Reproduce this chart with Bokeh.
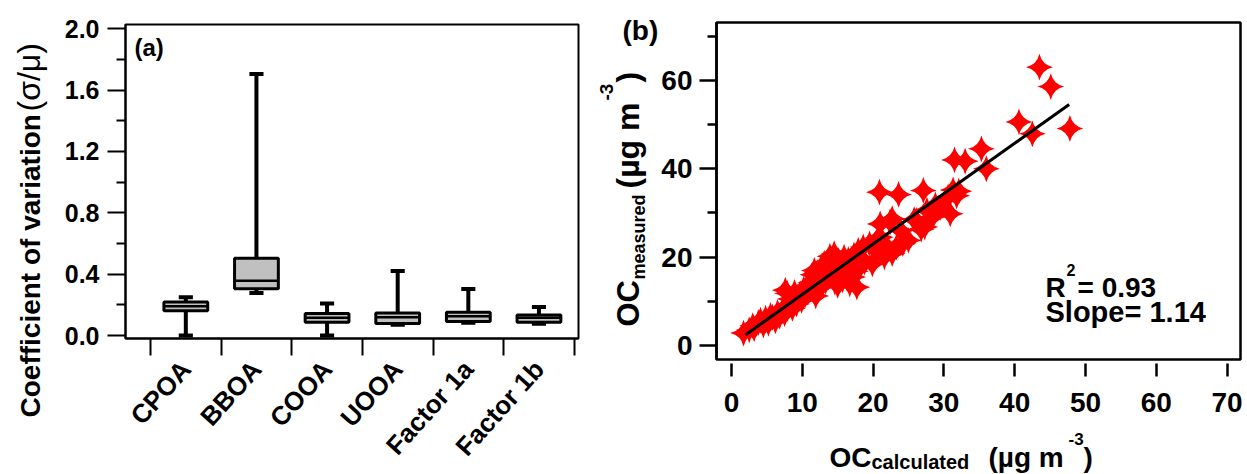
import math

from bokeh.embed import file_html
from bokeh.layouts import column, row
from bokeh.models import ColumnDataSource, FixedTicker, Label, Plot, Range1d
from bokeh.plotting import figure
from bokeh.resources import INLINE

FONT = "Liberation Sans"

# ---------------- Panel (a): coefficient of variation of each factor ----------------
factors = ["CPOA", "BBOA", "COOA", "UOOA", "Factor 1a", "Factor 1b"]
cv_whisker_low = [0.000, 0.277, 0.000, 0.070, 0.084, 0.076]
cv_q1 = [0.162, 0.305, 0.086, 0.078, 0.091, 0.086]
cv_median = [0.190, 0.357, 0.115, 0.119, 0.125, 0.115]
cv_q3 = [0.219, 0.504, 0.143, 0.147, 0.151, 0.134]
cv_whisker_high = [0.249, 1.706, 0.208, 0.420, 0.303, 0.186]

cv_ticks = [0.0, 0.4, 0.8, 1.2, 1.6, 2.0]
cv_minor_ticks = [0.2, 0.6, 1.0, 1.4, 1.8]

# ---------------- Panel (b): measured vs calculated OC ----------------
oc_calculated = [
    1.7, 2.5, 3.0, 3.2, 3.8, 4.1, 4.5, 4.8, 5.2, 5.5, 5.8, 6.2, 6.5, 6.8, 7.2,
    7.5, 7.6, 7.9, 8.1, 8.3, 8.6, 8.9, 9.2, 9.4, 9.7, 9.9, 10.2, 10.4, 10.7, 10.9,
    11.2, 11.5, 11.7, 11.9, 12.1, 12.3, 12.6, 12.6, 12.9, 13.1, 13.3, 13.5, 13.7,
    13.9, 14.1, 14.3, 14.5, 14.6, 14.8, 15.0, 15.1, 15.3, 15.5, 15.7, 15.9, 16.1,
    16.3, 16.5, 16.7, 16.9, 17.1, 17.3, 17.5, 17.7, 17.9, 18.1, 18.3, 18.6, 18.8,
    19.5, 19.9, 20.5, 20.7, 20.9, 21.0, 21.0, 21.6, 21.8,
    22.4, 22.7, 22.7, 23.3, 23.6, 23.9, 24.2, 25.0, 25.8, 26.1,
    26.8, 27.1, 27.3, 27.6, 28.4, 28.8, 29.5, 30.6, 30.9,
    31.3, 31.5, 31.8, 32.1, 33.0, 35.3, 36.0, 40.6, 42.5, 43.5, 45.1, 47.8,
]
oc_measured = [
    2.8, 3.5, 4.5, 3.8, 5.2, 5.7, 4.6, 6.2, 5.0, 6.8, 6.4, 5.6, 7.5, 6.6, 8.0,
    7.2, 12.5, 11.8, 9.2, 10.5, 8.4, 12.0, 9.4, 11.0, 11.7, 10.2, 12.8, 11.4, 13.5, 12.5,
    14.2, 16.0, 17.0, 11.2, 16.5, 15.1, 17.2, 13.2, 16.2, 18.6, 14.5, 17.3, 15.5,
    20.2, 16.6, 18.4, 20.8, 14.3, 17.8, 13.6, 19.2, 16.0, 18.6, 14.8, 20.0, 17.1,
    15.4, 19.5, 13.9, 18.0, 15.5, 20.5, 16.8, 13.2, 21.5, 17.7, 19.8, 22.3, 18.9,
    23.0, 18.5, 21.5, 24.3, 34.7, 27.5, 24.5, 20.0, 22.7,
    28.0, 28.7, 20.8, 22.3, 34.2, 26.0, 23.0, 23.8, 28.5, 28.3,
    26.3, 35.1, 26.8, 30.6, 29.1, 31.8, 31.3, 33.6, 29.8,
    35.2, 42.0, 33.9, 34.9, 41.7, 44.5, 40.0, 50.6, 47.9, 63.0, 58.6, 49.1,
]

fit_slope = 1.14
fit_intercept = 0.17
fit_x = [2.0, 47.7]

oc_ticks = [0, 20, 40, 60]
oc_minor_ticks = [10, 30, 50, 70]
oc_calc_ticks = [0, 10, 20, 30, 40, 50, 60, 70]

# ---------------- page geometry (pixels) ----------------
HEIGHT = 474
YT_W = 55                  # strip holding the panel (a) y title
PA_W = 540                 # panel (a) figure
MID_W = 63                 # strip holding "(b)" and the panel (b) y title
PB_W = 589                 # panel (b) figure
PB_H = 430
XT_H = HEIGHT - PB_H       # strip holding the panel (b) x title

PA_X0 = YT_W
MID_X0 = YT_W + PA_W
PB_X0 = MID_X0 + MID_W

A_LEFT, A_RIGHT, A_TOP, A_BOTTOM = 125, 578, 24, 339
B_LEFT, B_RIGHT, B_TOP, B_BOTTOM = 716, 1240, 22, 359

XA = (0.146, 6.56)
YA = (-0.0195, 2.028)
XB = (-2.12, 71.9)
YB = (-3.17, 73.1)

# Labels sit a little low for an alphabetic baseline; raise them by this share of the size
LIFT = 0.35

HAS_FRAME_ALIGN = "frame_align" in Plot.properties()


def independent(p):
    if HAS_FRAME_ALIGN:
        p.frame_align = False
    return p


def text_strip(width, height):
    """Axis-less figure whose data units are its own pixels (y grows downwards)."""
    p = figure(width=width, height=height, output_backend="svg", toolbar_location=None,
               x_range=Range1d(0, width), y_range=Range1d(height, 0),
               x_axis_type=None, y_axis_type=None,
               min_border_left=0, min_border_right=0, min_border_top=0, min_border_bottom=0)
    p.outline_line_color = None
    p.background_fill_color = "white"
    p.border_fill_color = "white"
    return independent(p)


def strip_conv(x0, y0):
    return lambda px, py: (px - x0, py - y0)


def a_conv(px, py):
    x = XA[0] + (px - A_LEFT) * (XA[1] - XA[0]) / (A_RIGHT - A_LEFT)
    y = YA[0] + (A_BOTTOM - py) * (YA[1] - YA[0]) / (A_BOTTOM - A_TOP)
    return x, y


def b_conv(px, py):
    x = XB[0] + (px - B_LEFT) * (XB[1] - XB[0]) / (B_RIGHT - B_LEFT)
    y = YB[0] + (B_BOTTOM - py) * (YB[1] - YB[0]) / (B_BOTTOM - B_TOP)
    return x, y


def put(p, conv, px, py, text, size, bold=True, vertical=False):
    """Place text with its baseline start at page pixel (px, py)."""
    lift = LIFT * size
    if vertical:
        px -= lift
    else:
        py -= lift
    x, y = conv(px, py)
    p.add_layout(Label(x=x, y=y, text=text, angle=math.pi / 2 if vertical else 0.0,
                       text_align="left", text_baseline="alphabetic", text_font=FONT,
                       text_font_size=f"{size}px",
                       text_font_style="bold" if bold else "normal",
                       text_color="black"))


def style_common(p, lw):
    p.xgrid.grid_line_color = None
    p.ygrid.grid_line_color = None
    p.outline_line_color = "black"
    p.outline_line_width = lw
    p.background_fill_color = "white"
    p.border_fill_color = "white"
    for ax in (p.xaxis[0], p.yaxis[0]):
        ax.axis_line_color = "black"
        ax.axis_line_width = lw
        ax.major_tick_line_color = "black"
        ax.major_tick_line_width = lw
        ax.minor_tick_line_color = "black"
        ax.minor_tick_line_width = lw
        ax.major_label_text_font = FONT
        ax.major_label_text_font_style = "bold"
        ax.major_label_text_color = "black"
        ax.major_tick_in = 0
        ax.minor_tick_in = 0


# ---------------- panel (a) ----------------
pa = figure(width=PA_W, height=HEIGHT, output_backend="svg", toolbar_location=None,
            x_range=Range1d(*XA), y_range=Range1d(*YA),
            min_border_left=A_LEFT - PA_X0, min_border_right=MID_X0 - A_RIGHT,
            min_border_top=A_TOP, min_border_bottom=HEIGHT - A_BOTTOM)
independent(pa)
style_common(pa, 2)

pos = [i + 1 for i in range(len(factors))]
box_half, cap_half = 0.31, 0.10
box_src = ColumnDataSource(dict(
    x=pos,
    lo=cv_whisker_low, q1=cv_q1, med=cv_median, q3=cv_q3, hi=cv_whisker_high,
    bl=[v - box_half for v in pos], br=[v + box_half for v in pos],
    cl=[v - cap_half for v in pos], cr=[v + cap_half for v in pos],
))
pa.segment(x0="x", y0="q3", x1="x", y1="hi", source=box_src, line_color="black", line_width=4)
pa.segment(x0="x", y0="lo", x1="x", y1="q1", source=box_src, line_color="black", line_width=4)
pa.segment(x0="cl", y0="hi", x1="cr", y1="hi", source=box_src, line_color="black", line_width=4)
pa.segment(x0="cl", y0="lo", x1="cr", y1="lo", source=box_src, line_color="black", line_width=4)
pa.vbar(x="x", width=2 * box_half, bottom="q1", top="q3", source=box_src,
        fill_color="#c0c0c0", line_color="black", line_width=3)
pa.segment(x0="bl", y0="med", x1="br", y1="med", source=box_src, line_color="black", line_width=2.5)

xa = pa.xaxis[0]
xa.ticker = FixedTicker(ticks=pos, minor_ticks=[v - 0.5 for v in pos] + [pos[-1] + 0.5])
xa.major_label_overrides = {v: name for v, name in zip(pos, factors)}
xa.major_tick_out = 0
xa.minor_tick_out = 17
xa.major_label_orientation = math.radians(48)
xa.major_label_text_font_size = "26px"
xa.major_label_standoff = 9

ya = pa.yaxis[0]
ya.ticker = FixedTicker(ticks=cv_ticks, minor_ticks=cv_minor_ticks)
ya.major_label_overrides = {v: f"{v:.1f}" for v in cv_ticks}
ya.major_tick_out = 18
ya.minor_tick_out = 9
ya.major_label_text_font_size = "25px"
ya.major_label_standoff = 8

put(pa, a_conv, 134, 55, "(a)", 24)

# y title of panel (a)
yt = text_strip(YT_W, HEIGHT)
yt_conv = strip_conv(0, 0)
put(yt, yt_conv, 40, 417, "Coefficient of variation", 28, vertical=True)
put(yt, yt_conv, 40, 111, "(σ/μ)", 32, bold=False, vertical=True)

# ---------------- panel (b) ----------------
pb = figure(width=PB_W, height=PB_H, output_backend="svg", toolbar_location=None,
            x_range=Range1d(*XB), y_range=Range1d(*YB),
            min_border_left=B_LEFT - PB_X0, min_border_right=PB_X0 + PB_W - B_RIGHT,
            min_border_top=B_TOP, min_border_bottom=PB_H - B_BOTTOM)
independent(pb)
style_common(pb, 2.5)

pb.scatter(x=oc_calculated, y=oc_measured, marker="square_pin", size=19,
           angle=math.pi / 4, fill_color="#ff0000", line_color=None)
fit_y = [fit_slope * v + fit_intercept for v in fit_x]
pb.line(x=fit_x, y=fit_y, line_color="black", line_width=3)

xb = pb.xaxis[0]
xb.ticker = FixedTicker(ticks=oc_calc_ticks, minor_ticks=[])
xb.axis_line_color = None
xb.major_tick_in = -4
xb.major_tick_out = 17
xb.major_label_text_font_size = "28px"
xb.major_label_standoff = 16

yb = pb.yaxis[0]
yb.ticker = FixedTicker(ticks=oc_ticks, minor_ticks=oc_minor_ticks)
yb.major_tick_out = 17
yb.minor_tick_out = 9
yb.major_label_text_font_size = "28px"
yb.major_label_standoff = 7

# statistics of the fit, inside the frame
put(pb, b_conv, 1045, 297, "R", 28)
put(pb, b_conv, 1066, 275, "2", 16)
put(pb, b_conv, 1077, 297, "= 0.93", 28)
put(pb, b_conv, 1045, 322, f"Slope= {fit_slope:.2f}", 29)

# "(b)" tag and y title: OC_measured (µg m^-3), read bottom to top
mid = text_strip(MID_W, HEIGHT)
mid_conv = strip_conv(MID_X0, 0)
put(mid, mid_conv, 622, 40, "(b)", 28)
put(mid, mid_conv, 639, 326, "OC", 31, vertical=True)
put(mid, mid_conv, 645, 279, "measured", 18, vertical=True)
put(mid, mid_conv, 639, 188, "(µg m", 32, vertical=True)
put(mid, mid_conv, 613, 100, "-3", 19, vertical=True)
put(mid, mid_conv, 639, 82, ")", 32, vertical=True)

# x title of panel (b): OC_calculated (µg m^-3)
xt = text_strip(PB_W, XT_H)
xt_conv = strip_conv(PB_X0, PB_H)
put(xt, xt_conv, 829, 467, "OC", 28)
put(xt, xt_conv, 871, 468, "calculated", 20)
put(xt, xt_conv, 988, 467, "(µg m", 28)
put(xt, xt_conv, 1068, 444, "-3", 17)
put(xt, xt_conv, 1083, 467, ")", 28)

layout = row(yt, pa, mid, column(pb, xt))
open("out.html", "w").write(file_html(layout, INLINE))
